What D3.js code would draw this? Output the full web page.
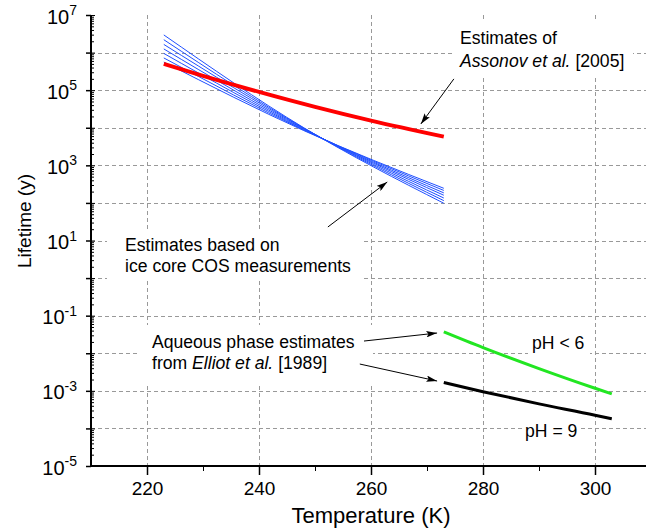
<!DOCTYPE html>
<html><head><meta charset="utf-8">
<script src="https://cdn.jsdelivr.net/npm/d3@7"></script>
<style>
html,body{margin:0;padding:0;background:#fff;}
svg{display:block;font-family:"Liberation Sans",Arial,Helvetica,sans-serif;}
</style></head>
<body>
<svg id="chart" width="646" height="529"></svg>
<script>
// ---------------- data ----------------
const xTicks = [220, 240, 260, 280, 300];
const xMinorTicks = [230, 250, 270, 290];
const yExponents = [-5, -4, -3, -2, -1, 0, 1, 2, 3, 4, 5, 6, 7];
const yLabelExponents = [-5, -3, -1, 1, 3, 5, 7];

// Assonov et al. [2005] (red)
const assonovT = [223, 230, 240, 250, 260, 273];
const assonovLife = [5.0e5, 2.4e5, 9.0e4, 3.6e4, 1.55e4, 5.8e3];

// Ice core COS estimates (blue fan): lifetime at 223 K, 248 K, 273 K for each line
const iceT = [223, 248, 273];
const iceStart = [2.95e6, 2.2e6, 1.65e6, 1.25e6, 9.5e5, 7.2e5, 5.6e5];
const iceMid = [1.0e4, 9.8e3, 9.6e3, 9.3e3, 9.0e3, 8.7e3, 8.4e3];
const iceEnd = [98, 115, 135, 160, 185, 215, 245];

// Aqueous phase estimates, Elliot et al. [1989]
const aqT = [273, 280, 290, 300, 303];
const aqPH6 = [0.037, 0.0141, 0.0039, 0.00117, 0.00083];
const aqPH9 = [0.00166, 0.00095, 0.00045, 0.000225, 0.00018];

// ---------------- layout ----------------
const svg = d3.select("#chart");
const X0 = 91, X1 = 651, Y0 = 466, Y1 = 15;
const x = d3.scaleLinear().domain([210, 310]).range([X0, X1]);
const y = d3.scaleLog().domain([1e-5, 1e7]).range([Y0, Y1]);
const W = 646;

// grid
const grid = svg.append("g").attr("stroke", "#999").attr("stroke-width", 1).attr("stroke-dasharray", "4,3");
grid.selectAll("line.h").data(yExponents.filter(e => e > -5 && e < 7)).enter().append("line")
  .attr("x1", X0).attr("x2", W).attr("y1", e => Math.round(y(Math.pow(10, e))) + 0.5).attr("y2", e => Math.round(y(Math.pow(10, e))) + 0.5);
grid.selectAll("line.v").data(xTicks).enter().append("line")
  .attr("y1", Y1).attr("y2", Y0).attr("x1", d => Math.round(x(d)) + 0.5).attr("x2", d => Math.round(x(d)) + 0.5);

// white boxes behind annotations (cover grid)
const boxes = [[452, 20, 181, 57], [107, 230, 256, 50], [138, 325, 235, 60], [528, 335, 62, 21], [522, 421, 56, 22]];
svg.append("g").selectAll("rect").data(boxes).enter().append("rect")
  .attr("x", d => d[0]).attr("y", d => d[1]).attr("width", d => d[2]).attr("height", d => d[3]).attr("fill", "#fff");

// lines
const iceLines = iceStart.map((s, i) => [[iceT[0], s], [iceT[1], iceMid[i]], [iceT[2], iceEnd[i]]]);
const curveLine = d3.line().x(d => x(d[0])).y(d => y(d[1])).curve(d3.curveMonotoneX);
svg.append("g").selectAll("path").data(iceLines).enter().append("path")
  .attr("d", curveLine).attr("fill", "none").attr("stroke", "#1f4fff").attr("stroke-width", 1);
svg.append("path").attr("d", curveLine(assonovT.map((t, i) => [t, assonovLife[i]])))
  .attr("fill", "none").attr("stroke", "#ff0000").attr("stroke-width", 4);
svg.append("path").attr("d", curveLine(aqT.map((t, i) => [t, aqPH6[i]])))
  .attr("fill", "none").attr("stroke", "#22e622").attr("stroke-width", 3);
svg.append("path").attr("d", curveLine(aqT.map((t, i) => [t, aqPH9[i]])))
  .attr("fill", "none").attr("stroke", "#000").attr("stroke-width", 3);

// axes
const minorY = [];
yExponents.slice(0, -1).forEach(e => { for (let k = 2; k <= 9; k++) minorY.push(k * Math.pow(10, e)); });
const yg = svg.append("g").attr("transform", `translate(${X0},0)`);
yg.call(d3.axisRight(y).tickValues(minorY).tickSize(3).tickFormat(""));
yg.call(g => g.select(".domain").remove());
const ygM = svg.append("g").attr("transform", `translate(${X0},0)`);
ygM.call(d3.axisRight(y).tickValues(yExponents.map(e => Math.pow(10, e))).tickSize(4).tickFormat(""));
ygM.call(g => g.select(".domain").remove());
const ygL = svg.append("g").attr("transform", `translate(${X0},0)`);
ygL.call(d3.axisLeft(y).tickValues(yExponents.map(e => Math.pow(10, e))).tickSize(5).tickPadding(9)
  .tickFormat(d => yLabelExponents.includes(Math.round(Math.log10(d))) ? "x" : ""));
ygL.select(".domain").attr("stroke-width", 2).attr("d", `M0,${Y0}V${Y1}`);
ygL.selectAll(".tick line").attr("stroke-width", 1.5);
ygL.selectAll(".tick text").each(function (d) {
  const e = Math.round(Math.log10(d));
  const t = d3.select(this);
  t.text(null).attr("font-size", 20).attr("fill", "#000").attr("font-family", "Liberation Sans, Arial, sans-serif").attr("dy", "0.4em");
  if (!yLabelExponents.includes(e)) return;
  t.append("tspan").text("10");
  t.append("tspan").attr("dy", "-0.6em").attr("font-size", 14).text(e < 0 ? "-" + (-e) : String(e));
});

const xg = svg.append("g").attr("transform", `translate(0,${Y0})`);
xg.call(d3.axisBottom(x).tickValues(xMinorTicks).tickSize(5).tickFormat(""));
xg.select(".domain").remove();
const xgM = svg.append("g").attr("transform", `translate(0,${Y0})`);
xgM.call(d3.axisBottom(x).tickValues(xTicks).tickSize(9).tickPadding(7).tickFormat(d3.format("d")));
xgM.select(".domain").attr("stroke-width", 2).attr("d", `M${X0},0H${W}`);
xgM.selectAll(".tick line").attr("stroke-width", 1.5);
xgM.selectAll(".tick text").attr("font-size", 19).attr("fill", "#000").attr("font-family", "Liberation Sans, Arial, sans-serif");
svg.selectAll(".tick line").attr("stroke", "#000");

// axis titles
svg.append("text").attr("x", 371).attr("y", 523).attr("text-anchor", "middle").attr("font-size", 22).text("Temperature (K)");
svg.append("text").attr("transform", "translate(31,221) rotate(-90)").attr("text-anchor", "middle").attr("font-size", 19).text("Lifetime (y)");

// arrows
svg.append("defs").append("marker").attr("id", "ah").attr("viewBox", "0 0 10 6").attr("refX", 10).attr("refY", 3)
  .attr("markerWidth", 11).attr("markerHeight", 6.5).attr("markerUnits", "userSpaceOnUse").attr("orient", "auto")
  .append("path").attr("d", "M0,0L10,3L0,6L2,3Z").attr("fill", "#000");
const arrows = [
  [[274.8, Math.pow(10, 5.30)], [268.9, Math.pow(10, 4.10)]],
  [[252.3, Math.pow(10, 1.36)], [262.9, Math.pow(10, 2.556)]],
  [[258.75, Math.pow(10, -1.675)], [271.8, Math.pow(10, -1.462)]],
  [[258.0, Math.pow(10, -2.287)], [271.8, Math.pow(10, -2.739)]]
];
svg.append("g").selectAll("line").data(arrows).enter().append("line")
  .attr("x1", d => x(d[0][0])).attr("y1", d => y(d[0][1])).attr("x2", d => x(d[1][0])).attr("y2", d => y(d[1][1]))
  .attr("stroke", "#000").attr("stroke-width", 1).attr("marker-end", "url(#ah)");

// annotation text
function label(xp, yp, parts) {
  const t = svg.append("text").attr("x", xp).attr("y", yp).attr("font-size", 17.6).attr("fill", "#000");
  parts.forEach(p => t.append("tspan").attr("font-style", p[1] ? "italic" : null).text(p[0]));
}
label(460, 44, [["Estimates of", false]]);
label(460, 67, [["Assonov et al.", true], [" [2005]", false]]);
label(125, 251, [["Estimates based on", false]]);
label(125, 272, [["ice core COS measurements", false]]);
label(152, 348, [["Aqueous phase estimates", false]]);
label(152, 369, [["from ", false], ["Elliot et al.", true], [" [1989]", false]]);
label(532, 349, [["pH < 6", false]]);
label(525, 437, [["pH = 9", false]]);
</script>
</body></html>
